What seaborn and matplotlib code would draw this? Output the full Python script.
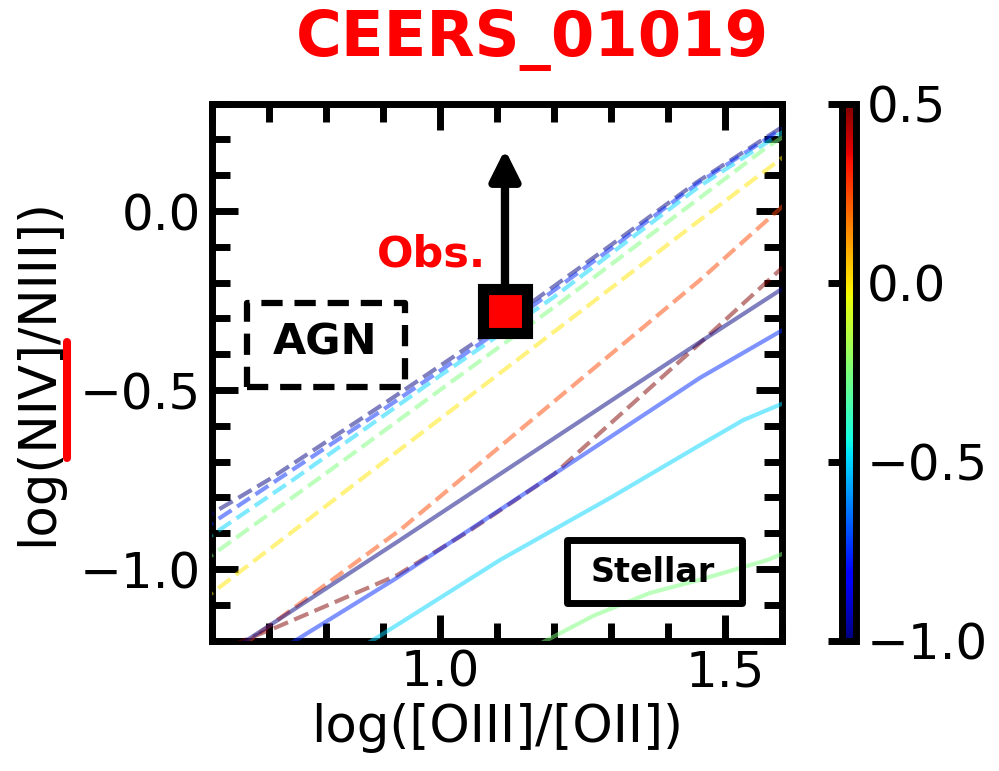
import numpy as np
import pandas as pd
import matplotlib
matplotlib.use("Agg")
import matplotlib.pyplot as plt
import seaborn as sns
from matplotlib.ticker import MultipleLocator
from matplotlib.patches import Rectangle
from matplotlib.lines import Line2D
from matplotlib.cm import ScalarMappable
from matplotlib.colors import Normalize

# ---------------- data ----------------
# AGN model tracks (dashed), colour = metallicity value
agn_z = [-1.0, -0.75, -0.5, -0.25, 0.0, 0.25, 0.5]
agn_m100_x = [0.58, 0.60, 0.70, 0.90, 1.10, 1.30, 1.45, 1.62]
agn_m100_y = [-0.865, -0.845, -0.750, -0.540, -0.325, -0.095, 0.080, 0.255]
agn_m075_x = [0.58, 0.60, 0.90, 1.10, 1.30, 1.45, 1.62]
agn_m075_y = [-0.895, -0.872, -0.555, -0.338, -0.105, 0.075, 0.250]
agn_m050_x = [0.58, 0.60, 0.742, 1.00, 1.20, 1.456, 1.62]
agn_m050_y = [-0.930, -0.905, -0.751, -0.460, -0.240, 0.070, 0.240]
agn_m025_x = [0.58, 0.60, 0.784, 1.00, 1.21, 1.45, 1.574, 1.62]
agn_m025_y = [-0.985, -0.961, -0.751, -0.500, -0.257, 0.030, 0.179, 0.225]
agn_p000_x = [0.58, 0.60, 0.86, 1.188, 1.456, 1.62]
agn_p000_y = [-1.091, -1.067, -0.751, -0.352, -0.025, 0.172]
agn_p025_x = [0.62, 0.667, 0.93, 1.20, 1.456, 1.62]
agn_p025_y = [-1.250, -1.198, -0.891, -0.532, -0.193, 0.040]
agn_p050_x = [0.60, 0.649, 0.714, 0.812, 0.925, 1.05, 1.20, 1.456, 1.62]
agn_p050_y = [-1.232, -1.204, -1.162, -1.095, -1.017, -0.895, -0.735, -0.369, -0.130]

# Stellar model tracks (solid)
st_z = [-1.0, -0.75, -0.5, -0.25]
st_m100_x = [0.60, 0.667, 0.93, 1.20, 1.456, 1.62]
st_m100_y = [-1.263, -1.193, -0.919, -0.635, -0.366, -0.197]
st_m075_x = [0.70, 0.742, 0.918, 1.20, 1.456, 1.62]
st_m075_y = [-1.245, -1.204, -1.031, -0.735, -0.466, -0.315]
st_m050_x = [0.83, 0.877, 0.93, 1.105, 1.30, 1.456, 1.532, 1.62]
st_m050_y = [-1.250, -1.204, -1.151, -0.975, -0.800, -0.654, -0.584, -0.525]
st_m025_x = [1.16, 1.181, 1.27, 1.368, 1.456, 1.574, 1.62]
st_m025_y = [-1.225, -1.204, -1.130, -1.067, -1.030, -0.975, -0.945]

# observation (lower limit)
obs_x = [1.114]
obs_y = [-0.279]
obs_arrow_top = [0.172]

x_ticks = [1.0, 1.5]
y_ticks = [-1.0, -0.5, 0.0]
cbar_ticks = [-1.0, -0.5, 0.0, 0.5]

# ---------------- build tables ----------------
def make_df(xs, ys, zs, kind):
    rows = []
    for x, y, z in zip(xs, ys, zs):
        for xi, yi in zip(x, y):
            rows.append({"x": xi, "y": yi, "Z": z, "kind": kind})
    return pd.DataFrame(rows)

agn_df = make_df([agn_m100_x, agn_m075_x, agn_m050_x, agn_m025_x, agn_p000_x, agn_p025_x, agn_p050_x],
                 [agn_m100_y, agn_m075_y, agn_m050_y, agn_m025_y, agn_p000_y, agn_p025_y, agn_p050_y],
                 agn_z, "AGN")
st_df = make_df([st_m100_x, st_m075_x, st_m050_x, st_m025_x],
                [st_m100_y, st_m075_y, st_m050_y, st_m025_y],
                st_z, "Stellar")

# ---------------- style ----------------
sns.set_style("white")
plt.rcParams["font.family"] = ["DejaVu Sans"]
plt.rcParams.update({"text.color": "black", "axes.labelcolor": "black",
                     "xtick.color": "black", "ytick.color": "black",
                     "axes.edgecolor": "black"})

jet = matplotlib.colormaps["jet"]

fig = plt.figure(figsize=(9.99, 7.71), dpi=100)
ax = fig.add_axes([0.2122, 0.1691, 0.5706, 0.6965])

norm = (-1.0, 0.5)
sns.lineplot(data=agn_df, x="x", y="y", hue="Z", units="Z", estimator=None, sort=False,
             palette=jet, hue_norm=norm, linestyle="--", lw=3, alpha=0.5,
             legend=False, zorder=3, ax=ax)
sns.lineplot(data=st_df, x="x", y="y", hue="Z", units="Z", estimator=None, sort=False,
             palette=jet, hue_norm=norm, linestyle="-", lw=3, alpha=0.5,
             legend=False, zorder=3, ax=ax)

ax.set_xlim(0.6, 1.6)
ax.set_ylim(-1.2, 0.3)
ax.xaxis.set_major_locator(plt.FixedLocator(x_ticks))
ax.yaxis.set_major_locator(plt.FixedLocator(y_ticks))
ax.xaxis.set_minor_locator(MultipleLocator(0.1))
ax.yaxis.set_minor_locator(MultipleLocator(0.1))
ax.tick_params(which="both", direction="in", top=True, right=True, bottom=True,
               left=True, width=5, labelsize=36, color="k", labelcolor="k")
ax.tick_params(which="major", length=19)
ax.tick_params(which="minor", length=13)
ax.tick_params(axis="x", pad=6)
ax.tick_params(axis="y", pad=8)
for s in ax.spines.values():
    s.set_linewidth(5)
    s.set_color("k")

ax.set_xlabel("log([OIII]/[OII])", fontsize=37, color="k")
ax.set_ylabel("log(NIV]/NIII])", fontsize=37, color="k")
ax.yaxis.set_label_coords(-0.262, 0.5)

# observation with upward arrow
ax.annotate("", xy=(obs_x[0], obs_arrow_top[0]), xytext=(obs_x[0], obs_y[0]),
            arrowprops=dict(arrowstyle="-|>,head_length=0.9,head_width=0.45",
                            lw=6, color="k", shrinkA=0, shrinkB=0,
                            mutation_scale=20, joinstyle="round"),
            zorder=5)
ax.plot(obs_x, obs_y, marker="s", ms=31, mew=8, mec="k", mfc="red",
        linestyle="none", zorder=6, clip_on=False)
ax.text(1.080, -0.154, "Obs.", color="red", fontsize=31, fontweight="bold",
        ha="right", va="baseline", zorder=6)

# labels in boxes
ax.add_patch(Rectangle((0.661, -0.492), 0.278, 0.235, fill=False, ec="k",
                       lw=4.5, linestyle=(0, (3.4, 1.9)), joinstyle="round", zorder=4))
ax.text(0.798, -0.402, "AGN", fontsize=31, fontweight="bold", ha="center",
        va="baseline", color="k", zorder=5)
ax.add_patch(Rectangle((1.223, -1.095), 0.307, 0.176, fill=False, ec="k",
                       lw=5, joinstyle="round", zorder=4))
ax.text(1.374, -1.036, "Stellar", fontsize=24, fontweight="bold", ha="center",
        va="baseline", color="k", zorder=5)

# colorbar
cax = fig.add_axes([0.8428, 0.1691, 0.014, 0.6965])
sm = ScalarMappable(norm=Normalize(*norm), cmap=jet)
cb = fig.colorbar(sm, cax=cax, ticks=cbar_ticks)
cb.outline.set_linewidth(5)
cb.outline.set_edgecolor("k")
cb.ax.tick_params(direction="in", length=20, width=5, labelsize=36, pad=8,
                  color="k", labelcolor="k", right=True)
cb.ax.set_yticklabels([f"{t:.1f}".replace("-", "\u2212") for t in cbar_ticks])

# title and red marker next to y label
fig.text(0.533, 0.927, "CEERS_01019", color="red", fontsize=45, fontweight="bold",
         ha="center", va="baseline")
fig.add_artist(Line2D([0.067, 0.067], [0.406, 0.556], color="red", lw=5.8,
                      transform=fig.transFigure))

fig.savefig("out.png", dpi=100)
